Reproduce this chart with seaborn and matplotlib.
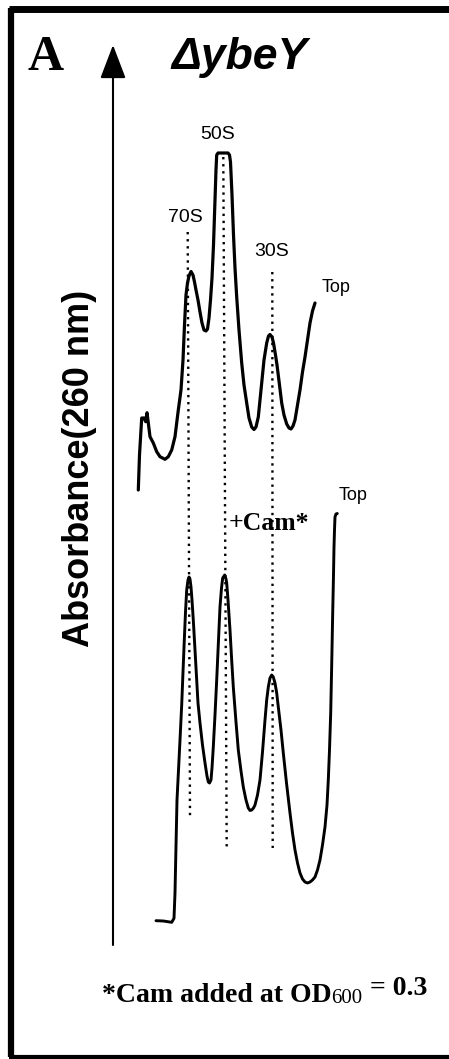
import matplotlib
matplotlib.use("Agg")
import matplotlib.pyplot as plt
import seaborn as sns
import numpy as np

sns.set_theme(style="white")
plt.rcParams['font.family'] = ['Liberation Sans', 'DejaVu Sans']
plt.rcParams['text.color'] = 'black'

# ---------------- data (x = gradient position, y = signal depth) -------------
top_pos = [138.3, 139.5, 141.7, 144.0, 145.7, 147.0, 148.3, 150.0, 153.3, 156.7, 160.0, 165.0,
           168.3, 171.7, 175.0, 178.3, 181.0, 183.0, 184.5, 186.0, 187.5, 189.0, 191.0, 193.0,
           194.5, 196.0, 198.0, 200.0, 202.0, 204.0, 206.0, 207.5, 209.0, 210.5, 212.0, 213.5,
           215.0, 216.0, 216.7, 218.0, 228.0, 229.5, 230.5, 232.0, 233.5, 235.0, 236.7, 239.0,
           241.7, 244.0, 246.7, 249.0, 251.7, 254.0, 256.0, 258.3, 260.0, 261.7, 264.0, 266.7,
           268.5, 270.0, 272.0, 273.5, 275.5, 277.0, 279.5, 281.7, 284.0, 286.7, 289.0, 291.0,
           293.0, 295.0, 297.5, 300.0, 302.5, 305.0, 307.5, 310.0, 312.5, 315.0]
top_sig = [490, 455, 418, 418, 421.7, 412.7, 423, 436.7, 443, 451.7, 456.7, 459.3,
           456.7, 450, 436.7, 410, 390, 360, 325, 295, 283, 276, 271.5, 275,
           282, 290, 300, 312, 323, 330, 331, 329, 318, 300, 278, 245,
           200, 170, 155, 153, 153, 155, 162, 195, 235, 268, 297, 330,
           363, 385, 403, 418, 427, 429.5, 427, 417, 400, 383, 360, 343,
           336, 334.5, 337, 343, 355, 365, 385, 403, 415, 424, 428, 429,
           426, 420, 405, 390, 372, 357, 340, 323, 311, 303]

cam_pos = [156.0, 163.3, 171.7, 174.0, 175.0, 175.7, 177.0, 178.5, 180.0, 181.7, 183.0, 184.3,
           185.5, 186.7, 188.0, 189.0, 190.0, 191.0, 192.0, 193.3, 195.0, 196.7, 198.0, 200.0,
           202.5, 205.0, 207.0, 208.3, 209.5, 211.0, 212.0, 213.3, 215.0, 216.7, 218.5, 220.0,
           221.5, 222.7, 224.7, 226.0, 226.7, 228.0, 230.0, 231.5, 233.3, 236.0, 238.3, 241.0,
           243.3, 246.0, 248.3, 250.0, 251.7, 253.5, 255.0, 257.5, 260.0, 262.5, 265.0, 266.7,
           268.3, 270.0, 271.7, 273.3, 275.0, 276.7, 278.3, 281.0, 283.3, 286.5, 290.0, 292.5,
           295.0, 297.5, 300.0, 302.5, 305.0, 307.5, 310.0, 312.5, 315.0, 317.5, 320.0, 322.5,
           325.0, 327.0, 328.3, 329.5, 330.7, 331.7, 332.7, 333.5, 334.0, 334.5, 335.0, 336.0,
           337.3]
cam_sig = [920.7, 921, 922.3, 918.3, 893, 860, 800, 770, 740, 705, 672, 640,
           612, 590, 580, 577, 579, 587, 600, 620, 650, 680, 703, 723,
           745, 763, 776, 782, 783, 780, 768, 747, 715, 680, 640, 607,
           588, 578, 575, 579, 583, 600, 630, 657, 687, 722, 750, 771,
           787, 800, 808, 810.5, 810, 808, 805, 795, 780, 752, 720, 700,
           687, 678, 675, 677, 683, 693, 707, 730, 753, 783, 813, 833,
           850, 863, 873, 879, 882, 883, 882, 880, 877, 870, 860, 845,
           827, 805, 780, 750, 713, 665, 613, 575, 547, 530, 517, 514,
           513.5]

peak_names = ["70S", "50S", "30S"]
peak_pos_top = [187.7, 223.3, 272.3]
peak_pos_bot = [190.0, 226.7, 272.7]
peak_line_top = [232, 157, 272]
peak_line_bot = [817, 848, 848]
peak_label_pos = [185.7, 217.5, 271.7]
peak_label_y = [218, 134.5, 251.7]

W, H = 449, 1059
fig = plt.figure(figsize=(W / 100, H / 100), dpi=100)
fig.patch.set_facecolor("white")
ax = fig.add_axes([0, 0, 1, 1])
ax.set_xlim(0, W)
ax.set_ylim(H, 0)
ax.axis("off")

# traces
sns.lineplot(x=top_pos, y=top_sig, sort=False, estimator=None, color="black",
             linewidth=2.3, ax=ax, legend=False)
sns.lineplot(x=cam_pos, y=cam_sig, sort=False, estimator=None, color="black",
             linewidth=2.1, ax=ax, legend=False)

# dotted peak lines
for xt, xb, yt, yb in zip(peak_pos_top, peak_pos_bot, peak_line_top, peak_line_bot):
    ax.plot([xt, xb], [yt, yb], color="black", lw=1.7, linestyle=(0, (1, 2)),
            dash_capstyle="butt")

sans = ['Liberation Sans', 'DejaVu Sans']
for name, xp, yp in zip(peak_names, peak_label_pos, peak_label_y):
    ax.text(xp, yp, name, ha="center", va="center", fontsize=14, family=sans, color="black")

ax.text(322, 287, "Top", ha="left", va="center", fontsize=13, family=sans, color="black")
ax.text(339, 496, "Top", ha="left", va="center", fontsize=13, family=sans, color="black")

serif = ['Liberation Serif', 'DejaVu Serif']
ax.text(229, 523, "+Cam*", ha="left", va="center", fontsize=18.5, fontweight="bold",
        family=serif, color="black")

# title and panel letter
ax.text(171, 58, "\u0394ybeY", ha="left", va="center", fontsize=32, fontweight="bold",
        fontstyle="italic", family=sans, color="black")
ax.text(27, 70, "A", ha="left", va="baseline", fontsize=36, fontweight="bold",
        family=serif, color="black")

# y axis arrow
ax.annotate("", xy=(113, 45), xytext=(113, 945),
            arrowprops=dict(arrowstyle="-|>,head_length=21,head_width=8",
                            mutation_scale=1, lw=1.5, color="black",
                            shrinkA=0, shrinkB=0))
ax.text(80, 468, "Absorbance(260 nm)", rotation=90, ha="center", va="center",
        fontsize=26, fontweight="bold", color="black")

# footnote
t1 = ax.text(102, 1002, "*Cam added at OD", ha="left", va="baseline", fontsize=20,
             fontweight="bold", family=serif, color="black")
t2 = ax.annotate("600", xy=(1, 0), xycoords=t1, xytext=(0, 0), textcoords="offset points",
                 ha="left", va="bottom", fontsize=15, family=serif, color="black")
t3 = ax.annotate(" = 0.3", xy=(1, 0), xycoords=t2, xytext=(0, 5), textcoords="offset points",
                 ha="left", va="bottom", fontsize=20, fontweight="bold", family=serif,
                 color="black")

# frame (open on the right)
ax.plot([11, 11], [8, 1057], color="black", lw=4.5, solid_capstyle="butt")
ax.plot([8.8, 449], [8.5, 8.5], color="black", lw=5, solid_capstyle="butt")
ax.plot([8.8, 449], [1056.8, 1056.8], color="black", lw=3, solid_capstyle="butt")

fig.savefig("out.png", dpi=100, facecolor="white")
